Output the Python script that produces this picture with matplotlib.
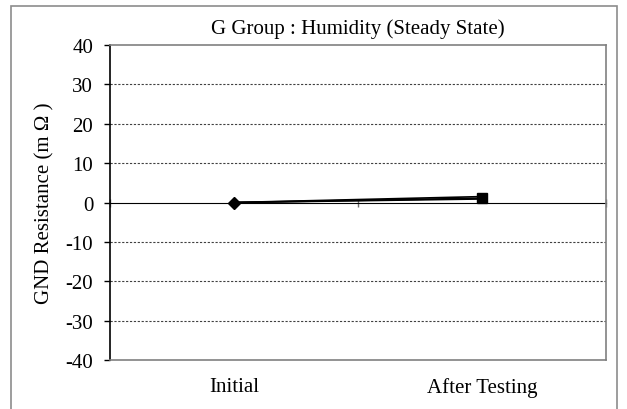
import numpy as np
import matplotlib.pyplot as plt
from matplotlib.patches import Rectangle

plt.rcParams['font.family'] = ['Liberation Serif', 'DejaVu Serif']
plt.rcParams['axes.unicode_minus'] = False

categories = ['Initial', 'After Testing']
s_max = [0.0, 1.5]
s_avg = [0.0, 1.1]
s_min = [0.0, 0.9]
yticks = np.arange(-40, 41, 10)

fig = plt.figure(figsize=(6.27, 4.10), dpi=100)
# outer chart frame
fig.patches.append(Rectangle((0.0175, -0.05), 0.966, 1.033, transform=fig.transFigure,
                             fill=False, edgecolor='#8c8c8c', linewidth=1.2))
ax = fig.add_axes([0.1754, 0.1195, 0.7911, 0.7683])

x = np.arange(len(categories))
ax.plot(x, s_max, color='black', lw=1.2, zorder=3)
ax.plot(x, s_min, color='black', lw=1.2, zorder=3)
ax.plot(x, s_avg, color='black', lw=1.2, zorder=3)
ax.plot(x[1:], s_max[1:], ls='none', color='black', marker='^', ms=5, zorder=4)
ax.plot(x[1:], s_avg[1:], ls='none', color='black', marker='s', ms=6.5, zorder=5)
ax.plot(x[:1], s_min[:1], ls='none', color='black', marker='D', ms=6.5, zorder=5)

ax.set_xlim(-0.5, 1.5)
ax.set_ylim(-40, 40)
ax.set_yticks(yticks)
ax.set_xticks(x)
ax.set_xticklabels(categories, fontsize=15)
ax.tick_params(axis='x', length=0, pad=12)
ax.tick_params(axis='y', labelsize=15, length=4, direction='out', width=1, pad=8)

for y in yticks[1:-1]:
    if y != 0:
        ax.axhline(y, color='#404040', lw=0.8, ls=(0, (2, 1.5)), zorder=1)

# category axis crossing at zero
sec = ax.secondary_xaxis(0.5)
sec.set_xticks([-0.5, 0.5, 1.5])
sec.set_xticklabels(['', '', ''])
sec.tick_params(length=6, direction='inout', color='#707070', width=1)
sec.spines['bottom'].set_color('#707070')
sec.spines['bottom'].set_linewidth(1.2)

for side in ['top', 'right', 'bottom']:
    ax.spines[side].set_color('#808080')
    ax.spines[side].set_linewidth(1.2)
ax.spines['left'].set_color('black')
ax.spines['left'].set_linewidth(1.2)

ax.set_title('G Group : Humidity (Steady State)', fontsize=15, pad=9)
ax.set_ylabel('GND Resistance (m Ω )', fontsize=15, labelpad=8)

plt.savefig('out.png', dpi=100)
